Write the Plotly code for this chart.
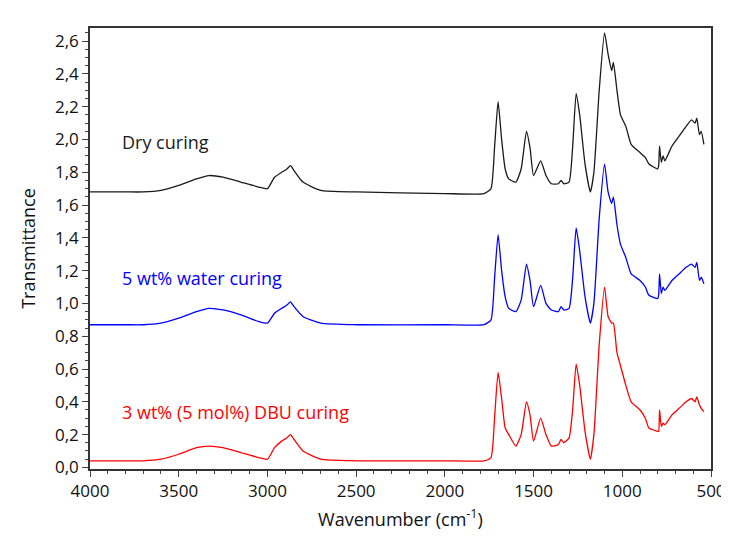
import plotly.graph_objects as go

# wavenumbers (cm-1) of read points
wn = [4000, 3800, 3700, 3600, 3500, 3400, 3330, 3250, 3150, 3050, 3000, 2960, 2920, 2890, 2870, 2850, 2800, 2700,
      2500, 2000, 1780, 1740, 1720, 1700, 1680, 1660, 1640, 1600, 1570, 1540, 1520, 1500, 1460, 1430, 1400,
      1360, 1345, 1330, 1300, 1280, 1260, 1240, 1210, 1180, 1160, 1130, 1100, 1080, 1060, 1050, 1030,
      1010, 980, 950, 900, 870, 850, 800, 795, 790, 780, 770, 760, 720, 680, 640, 610, 590, 580, 565, 555, 540]

dry = [1.68, 1.68, 1.68, 1.69, 1.72, 1.76, 1.78, 1.77, 1.74, 1.71, 1.70, 1.77, 1.80, 1.82, 1.84, 1.81, 1.74, 1.69,
       1.68, 1.67, 1.67, 1.70, 1.95, 2.23, 2.00, 1.82, 1.76, 1.74, 1.82, 2.05, 1.95, 1.78, 1.87, 1.78, 1.73,
       1.73, 1.75, 1.73, 1.74, 1.95, 2.28, 2.15, 1.85, 1.68, 1.80, 2.30, 2.65, 2.52, 2.42, 2.47, 2.30,
       2.15, 2.08, 1.97, 1.92, 1.89, 1.85, 1.82, 1.84, 1.96, 1.86, 1.90, 1.87, 1.96, 2.02, 2.08, 2.12, 2.10, 2.13, 2.03, 2.05, 1.97]

water = [0.87, 0.87, 0.87, 0.88, 0.91, 0.95, 0.97, 0.96, 0.93, 0.89, 0.88, 0.94, 0.97, 0.99, 1.01, 0.98, 0.92, 0.88,
         0.87, 0.87, 0.87, 0.90, 1.15, 1.42, 1.20, 1.04, 0.97, 0.95, 1.02, 1.24, 1.14, 0.98, 1.11, 1.00, 0.96,
         0.95, 0.98, 0.96, 0.97, 1.15, 1.46, 1.32, 1.04, 0.88, 1.00, 1.52, 1.85, 1.68, 1.61, 1.65, 1.48,
         1.36, 1.28, 1.18, 1.14, 1.10, 1.05, 1.03, 1.05, 1.18, 1.06, 1.10, 1.08, 1.14, 1.18, 1.22, 1.24, 1.22, 1.25, 1.14, 1.16, 1.12]

dbu = [0.04, 0.04, 0.04, 0.05, 0.08, 0.12, 0.13, 0.12, 0.09, 0.06, 0.05, 0.12, 0.16, 0.18, 0.20, 0.17, 0.10, 0.05,
       0.04, 0.04, 0.04, 0.06, 0.30, 0.58, 0.42, 0.24, 0.20, 0.13, 0.20, 0.40, 0.32, 0.16, 0.30, 0.20, 0.13,
       0.14, 0.17, 0.15, 0.18, 0.35, 0.63, 0.50, 0.22, 0.05, 0.20, 0.75, 1.10, 0.92, 0.88, 0.88, 0.70,
       0.62, 0.50, 0.40, 0.35, 0.30, 0.24, 0.22, 0.22, 0.35, 0.25, 0.27, 0.26, 0.32, 0.36, 0.40, 0.42, 0.40, 0.43, 0.38, 0.36, 0.34]

series = [("Dry curing", dry, "#1a1a1a", 1.90), ("5 wt% water curing", water, "#0000ff", 1.07),
          ("3 wt% (5 mol%) DBU curing", dbu, "#ff0000", 0.25)]

fig = go.Figure()
for name, y, col, ylab in series:
    fig.add_trace(go.Scatter(x=wn, y=y, mode="lines", name=name, line=dict(color=col, width=1.3, shape="spline", smoothing=0.5)))
    fig.add_annotation(x=4000, y=ylab, xref="x", yref="y", text=name, showarrow=False,
                       xanchor="left", xshift=30, yanchor="bottom", font=dict(color=col, size=18))

ax = dict(showline=True, linecolor="#333", linewidth=1.5, mirror=True, ticks="outside", ticklen=6,
          minor=dict(ticks="outside", ticklen=3), showgrid=False, zeroline=False,
          tickfont=dict(size=17, color="#111"))
fig.update_xaxes(ax, range=[4000, 500], dtick=500,
                 title=dict(text="Wavenumber (cm<sup>-1</sup>)", font=dict(size=18), standoff=12))
fig.update_yaxes(ax, range=[-0.01, 2.68], dtick=0.2, tickformat=".1f", title=dict(text="Transmittance", font=dict(size=18)))
fig.update_layout(width=729, height=539, template="plotly_white", showlegend=False, separators=", ",
                  font=dict(family="Open Sans", color="#111"),
                  margin=dict(l=82, r=26, t=20, b=78), plot_bgcolor="white")
fig.write_html("out.html")
